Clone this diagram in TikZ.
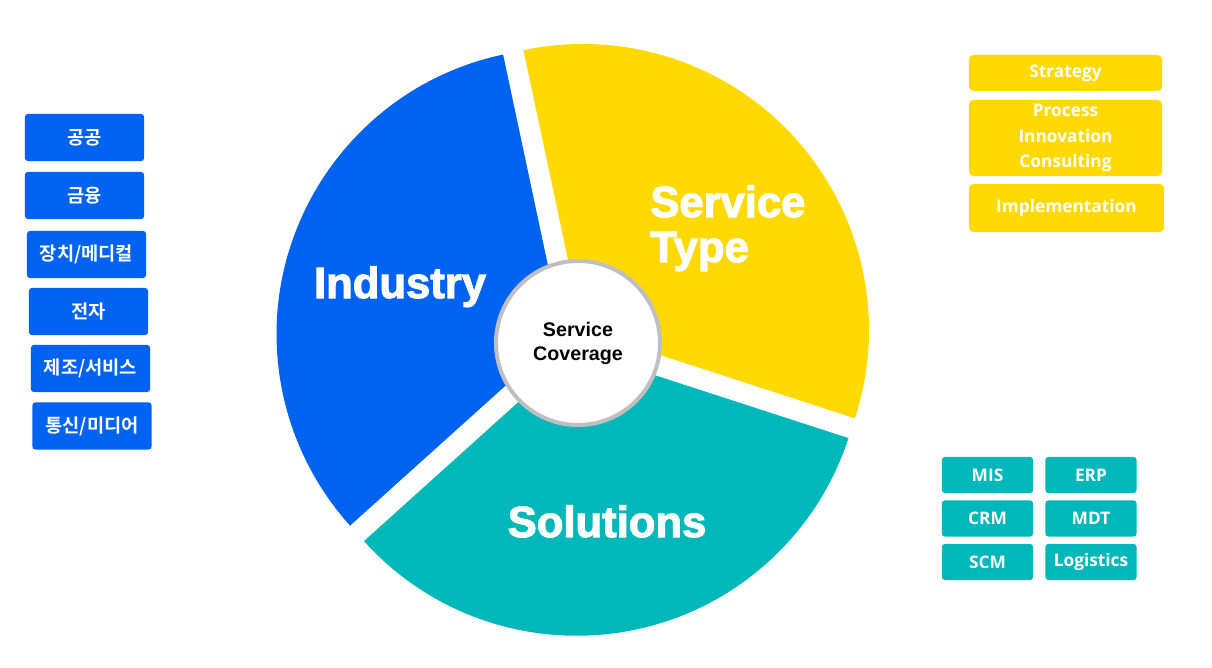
\documentclass[tikz,border=0pt]{standalone}
\usepackage{fontspec}
\newfontfamily\heavyfont[FakeBold=2.5]{Liberation Sans Bold}
\newfontfamily\arialfont{Liberation Sans}
\newfontfamily\krfont{Noto Sans CJK KR Bold}
\newfontfamily\boxfont{Open Sans}

\definecolor{indblue}{HTML}{0062F0}
\definecolor{svcyellow}{HTML}{FFD900}
\definecolor{solteal}{HTML}{00B7BA}
\definecolor{ringgray}{HTML}{BFBFBF}

\tikzset{
    wedgelabel/.style={text=white, inner sep=0pt, font=\heavyfont\fontsize{31}{32}\selectfont},
    kbox/.style={fill=indblue, rounded corners=2pt, text=white, inner sep=0pt,
        minimum width=2.975cm, minimum height=1.175cm, font=\krfont\fontsize{13.3}{15}\selectfont},
    ybox/.style={fill=svcyellow, rounded corners=3pt, text=white, inner sep=0pt, align=center,
        minimum width=4.825cm, font=\boxfont\bfseries\fontsize{12.3}{18}\selectfont},
    tbox/.style={fill=solteal, rounded corners=2pt, text=white, inner sep=0pt,
        minimum width=2.275cm, minimum height=0.9cm, font=\boxfont\bfseries\fontsize{12.3}{15}\selectfont},
}

\begin{document}
\begin{tikzpicture}[x=0.025cm, y=0.025cm]
        % Define dimensions
        \def\radius{286}
        \def\explode{12}
        \useasboundingbox (0,0) rectangle (1212,667);

        % Pie wedges, each pushed out along its bisector
        \begin{scope}[shift={(574,329)}]
            \foreach \start/\colour in {102/indblue, 222/solteal, 342/svcyellow}
            {
                \pgfmathsetmacro{\bisect}{\start+60}
                \pgfmathsetmacro{\stop}{\start+120}
                \fill[\colour, shift={(\bisect:\explode)}] (0,0) -- (\start:\radius)
                    arc[start angle=\start, end angle=\stop, radius=\radius] -- cycle;
            }
        \end{scope}

        % Hub in the middle
        \node[circle, fill=white, draw=ringgray, line width=2.85pt, minimum size=4.1cm, inner sep=0pt,
            align=center, font=\arialfont\bfseries\fontsize{14}{17}\selectfont] (hub) at (578,324) {Service\\Coverage};

        % Wedge titles
        \node[wedgelabel, anchor=base] (industry) at (400,369) {Industry};
        \node[wedgelabel, anchor=base west, align=left] (servicetype) at (650,405) {Service\\Type};
        \node[wedgelabel, anchor=base] (solutions) at (607,130) {Solutions};

        % Industry boxes on the left
        \foreach \x/\y/\txt [count=\i] in {84.5/529.5/공공, 84.5/471.5/금융, 86.5/412.5/{장치/메디컬},
            88.5/355.5/전자, 90.5/298.5/{제조/서비스}, 92/241/{통신/미디어}}
        {
            \node[kbox] (ind-\i) at (\x,\y) {\txt};
        }

        % Service type boxes
        \node[ybox, minimum height=0.9cm] (strategy) at (1065.5,594) {Strategy};
        \node[ybox, minimum height=1.9cm] (pic) at (1065.5,529) {Process\\Innovation\\Consulting};
        \node[ybox, minimum height=1.2cm, minimum width=4.875cm] (implementation) at (1066.5,459) {Implementation};

        % Solution boxes
        \foreach \x/\y/\txt/\name in {987.5/192/MIS/mis, 1091/192/ERP/erp, 987.5/148.5/CRM/crm,
            1091/148.5/MDT/mdt, 987.5/105/SCM/scm, 1091/105/Logistics/logistics}
        {
            \node[tbox] (\name) at (\x,\y) {\txt};
        }
\end{tikzpicture}
\end{document}
